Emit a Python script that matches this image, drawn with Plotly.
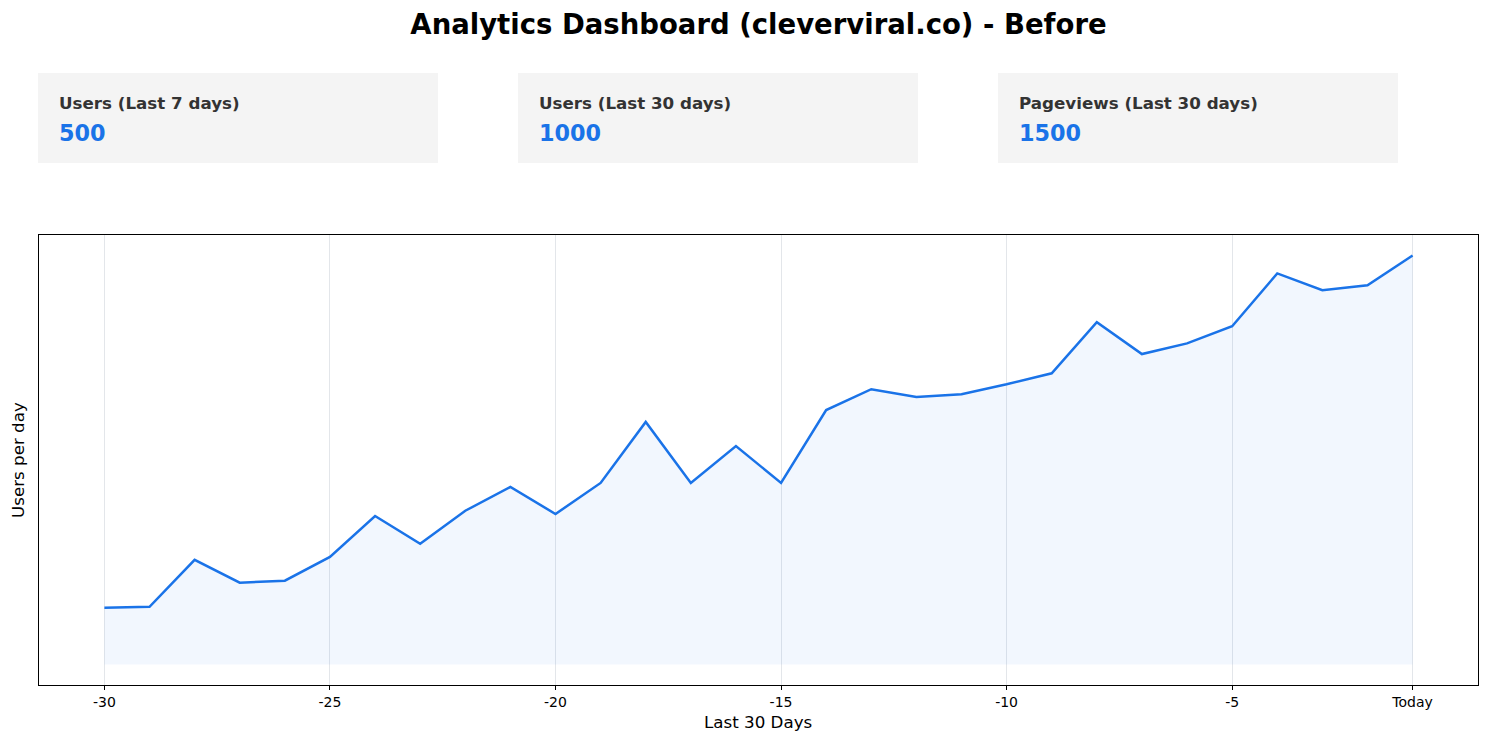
import plotly.graph_objects as go

days = list(range(-30, 0))
users = [13.9, 14.1, 25.6, 20.0, 20.5, 26.3, 36.3, 29.5, 37.6, 43.4,
         36.8, 44.4, 59.3, 44.4, 53.4, 44.4, 62.2, 67.3, 65.4, 66.1,
         68.5, 71.2, 83.7, 75.9, 78.5, 82.7, 95.6, 91.5, 92.7, 100.0]
tick_vals = [-30, -25, -20, -15, -10, -5, -1]
tick_text = ["-30", "-25", "-20", "-15", "-10", "-5", "Today"]
kpi_labels = ["Users (Last 7 days)", "Users (Last 30 days)", "Pageviews (Last 30 days)"]
kpi_values = ["500", "1000", "1500"]

FONT = "DejaVu Sans"
BLUE = "#1a73e8"

OFF = 8  # page body margin
W, H = 1488 - OFF, 742 - OFF
# plot area in screen pixels: x 39..1478, y 235..685
L = 39 - OFF
R = W - (1478 - OFF)
T = 235 - OFF
B = H - (685 - OFF)
pw, ph = W - L - R, H - T - B

def px_x(sx):
    return (sx - OFF - L) / pw

def px_y(sy):
    return (H - B - (sy - OFF)) / ph

fig = go.Figure()
fig.add_trace(go.Scatter(
    x=days, y=users, mode="lines",
    line=dict(color=BLUE, width=2.5),
    fill="tozeroy", fillcolor="rgba(26,115,232,0.06)",
    hoverinfo="x+y", showlegend=False,
))

shapes = []
annotations = []
card_lefts = [38, 518, 998]
for left, lab, val in zip(card_lefts, kpi_labels, kpi_values):
    shapes.append(dict(type="rect", xref="paper", yref="paper",
                       x0=px_x(left), x1=px_x(left + 400),
                       y0=px_y(163), y1=px_y(73),
                       fillcolor="#f4f4f4", line=dict(width=0), layer="below"))
    annotations.append(dict(xref="paper", yref="paper", x=px_x(left + 19), y=px_y(103),
                            xanchor="left", yanchor="middle", showarrow=False,
                            text="<b>" + lab + "</b>",
                            font=dict(family=FONT, size=16.7, color="#333333")))
    annotations.append(dict(xref="paper", yref="paper", x=px_x(left + 19), y=px_y(133),
                            xanchor="left", yanchor="middle", showarrow=False,
                            text="<b>" + val + "</b>",
                            font=dict(family=FONT, size=22.3, color=BLUE)))

annotations.append(dict(xref="paper", yref="paper", x=px_x(758), y=px_y(722),
                        xanchor="center", yanchor="middle", showarrow=False,
                        text="Last 30 Days", font=dict(family=FONT, size=16.7, color="black")))
annotations.append(dict(xref="paper", yref="paper", x=px_x(18), y=0.5,
                        xanchor="center", yanchor="middle", showarrow=False, textangle=-90,
                        text="Users per day", font=dict(family=FONT, size=16.7, color="black")))

fig.update_layout(
    width=W, height=H,
    margin=dict(l=L, r=R, t=T, b=B),
    paper_bgcolor="white", plot_bgcolor="white",
    font=dict(family=FONT, color="black"),
    title=dict(text="<b>Analytics Dashboard (cleverviral.co) - Before</b>",
               x=0.5, xref="paper", xanchor="center",
               y=1 - (24 - OFF) / H, yanchor="middle",
               font=dict(family=FONT, size=27.5, color="black")),
    shapes=shapes,
    annotations=annotations,
    xaxis=dict(range=[-31.45, 0.45], tickvals=tick_vals, ticktext=tick_text,
               showgrid=True, gridcolor="#e3e6ea", gridwidth=1,
               ticks="outside", ticklen=4, tickcolor="black", tickwidth=1,
               tickfont=dict(family=FONT, size=14, color="black"),
               showline=True, linecolor="black", linewidth=1, mirror=True,
               zeroline=False),
    yaxis=dict(range=[-5, 105], showticklabels=False, showgrid=False, ticks="",
               showline=True, linecolor="black", linewidth=1, mirror=True,
               zeroline=False),
)

fig.write_html("out.html")
